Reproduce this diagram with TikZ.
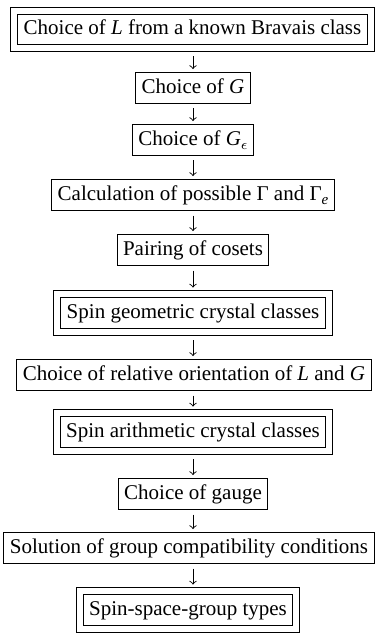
\documentclass[tikz,border=0pt]{standalone}
\usepackage{fontspec}
\setmainfont{Liberation Serif}
\newcommand\lowsub[1]{\raisebox{-0.45ex}{\fontsize{7.5}{8}\selectfont #1}}
\begin{document}
\begin{tikzpicture}[x=0.5pt,y=-0.5pt,
  box/.style={draw,line width=0.5pt,font=\fontsize{10.5}{12.6}\selectfont,
    text height=7.6pt,text depth=2.4pt,inner xsep=3pt,inner ysep=2.6pt},
  dbox/.style={box,double,double distance=3pt,inner xsep=4.75pt,inner ysep=4.35pt,outer sep=1.75pt},
  flow/.style={->,line width=0.45pt,shorten <=2.4pt,shorten >=1.6pt}]
\useasboundingbox (0,0) rectangle (375,636);
\node[dbox] (b1) at (192.5,29.5) {Choice of \textit{L} from a known Bravais class};
\node[box] (b2) at (193,88) {Choice of \textit{G}};
\node[box] (b3) at (193,140) {Choice of \textit{G}\lowsub{$\epsilon$}};
\node[box] (b4) at (193,195) {Calculation of possible Γ and Γ\lowsub{\textit{e}}};
\node[box] (b5) at (193,250) {Pairing of cosets};
\node[dbox] (b6) at (193,313) {Spin geometric crystal classes};
\node[box] (b7) at (194,375) {Choice of relative orientation of \textit{L} and \textit{G}};
\node[dbox] (b8) at (193,432) {Spin arithmetic crystal classes};
\node[box] (b9) at (193,494) {Choice of gauge};
\node[box] (b10) at (189,548) {Solution of group compatibility conditions};
\node[dbox] (b11) at (188,610) {Spin-space-group types};
\draw[flow] (b2.north |- b1.south) -- (b2.north);
\draw[flow] (b2.south) -- (b3.north);
\draw[flow] (b3.south) -- (b4.north);
\draw[flow] (b4.south) -- (b5.north);
\draw[flow] (b5.south) -- (b6.north);
\draw[flow] (b6.south) -- (b6.south |- b7.north);
\draw[flow] (b6.south |- b7.south) -- (b8.north);
\draw[flow] (b8.south) -- (b9.north);
\draw[flow] (b9.south) -- (b9.south |- b10.north);
\draw[flow] (b9.south |- b10.south) -- (b9.south |- b11.north);
\end{tikzpicture}
\end{document}
